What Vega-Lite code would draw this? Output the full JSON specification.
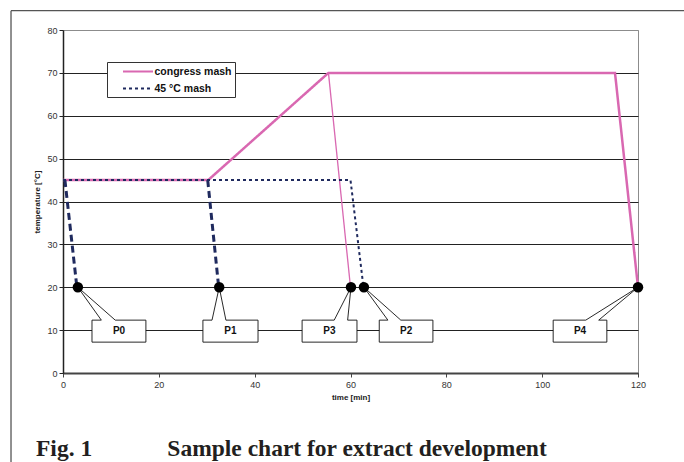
{
"$schema":"https://vega.github.io/schema/vega-lite/v6.json",
"width":575,"height":343,"autosize":"none",
"padding":{"left":63,"top":30,"right":46,"bottom":89},
"background":"white",
"config":{"view":{"stroke":"#8c8c8c","strokeWidth":1},"font":"Liberation Sans"},
"title":{"text":"Fig. 1\u00a0\u00a0\u00a0\u00a0\u00a0\u00a0\u00a0\u00a0\u00a0\u00a0\u00a0\u00a0\u2009Sample chart for extract development","orient":"bottom","anchor":"start","frame":"group","font":"Liberation Serif","fontSize":23.5,"fontWeight":"bold","color":"#231f20","dx":-27,"offset":-44},
"datasets":{
"frame":[{"x":-10.85,"x2":131,"y":84.5,"y2":84.5},{"x":-10.85,"x2":-10.85,"y":84.5,"y2":-25}],
"mash":[{"s":"congress mash","x":0,"y":45},{"s":"congress mash","x":30.3,"y":45},{"s":"congress mash","x":55.4,"y":70},{"s":"congress mash","x":115.2,"y":70},{"s":"congress mash","x":120,"y":20},{"s":"45 °C mash","x":0,"y":45},{"s":"45 °C mash","x":60,"y":45},{"s":"45 °C mash","x":62.6,"y":21}],
"branch":[{"x":55.4,"y":70},{"x":60,"y":20}],
"drops":[{"d":"P0","x":0.4,"y":45},{"d":"P0","x":2.8,"y":21},{"d":"P1","x":30.2,"y":45},{"d":"P1","x":32.4,"y":21}],
"callouts":[
{"c":"P0","o":0,"x":3.1,"y":20},{"c":"P0","o":1,"x":10.9,"y":12.33},{"c":"P0","o":2,"x":17.3,"y":12.33},{"c":"P0","o":3,"x":17.3,"y":7.2},{"c":"P0","o":4,"x":6.05,"y":7.2},{"c":"P0","o":5,"x":6.05,"y":12.33},{"c":"P0","o":6,"x":8.0,"y":12.33},{"c":"P0","o":7,"x":3.1,"y":20},
{"c":"P1","o":0,"x":32.6,"y":20},{"c":"P1","o":1,"x":34.0,"y":12.33},{"c":"P1","o":2,"x":40.7,"y":12.33},{"c":"P1","o":3,"x":40.7,"y":7.2},{"c":"P1","o":4,"x":29.2,"y":7.2},{"c":"P1","o":5,"x":29.2,"y":12.33},{"c":"P1","o":6,"x":31.1,"y":12.33},{"c":"P1","o":7,"x":32.6,"y":20},
{"c":"P3","o":0,"x":60.1,"y":20},{"c":"P3","o":1,"x":59.4,"y":12.33},{"c":"P3","o":2,"x":61.35,"y":12.33},{"c":"P3","o":3,"x":61.35,"y":7.2},{"c":"P3","o":4,"x":49.9,"y":7.2},{"c":"P3","o":5,"x":49.9,"y":12.33},{"c":"P3","o":6,"x":56.6,"y":12.33},{"c":"P3","o":7,"x":60.1,"y":20},
{"c":"P2","o":0,"x":62.8,"y":20},{"c":"P2","o":1,"x":70.5,"y":12.33},{"c":"P2","o":2,"x":77.2,"y":12.33},{"c":"P2","o":3,"x":77.2,"y":7.2},{"c":"P2","o":4,"x":66.0,"y":7.2},{"c":"P2","o":5,"x":66.0,"y":12.33},{"c":"P2","o":6,"x":67.8,"y":12.33},{"c":"P2","o":7,"x":62.8,"y":20},
{"c":"P4","o":0,"x":120,"y":20},{"c":"P4","o":1,"x":111.8,"y":12.33},{"c":"P4","o":2,"x":113.5,"y":12.33},{"c":"P4","o":3,"x":113.5,"y":7.2},{"c":"P4","o":4,"x":102.3,"y":7.2},{"c":"P4","o":5,"x":102.3,"y":12.33},{"c":"P4","o":6,"x":109.1,"y":12.33},{"c":"P4","o":7,"x":120,"y":20}],
"labels":[{"t":"P0","x":11.7,"y":9.7},{"t":"P1","x":34.95,"y":9.7},{"t":"P3","x":55.6,"y":9.7},{"t":"P2","x":71.6,"y":9.7},{"t":"P4","x":107.9,"y":9.7}],
"points":[{"x":3.1,"y":20},{"x":32.6,"y":20},{"x":60.1,"y":20},{"x":62.8,"y":20},{"x":120,"y":20}]
},
"encoding":{
"x":{"field":"x","type":"quantitative","scale":{"domain":[0,120],"nice":false,"zero":false},"axis":{"title":"time [min]","values":[0,20,40,60,80,100,120],"grid":false,"labelFlush":false,"domainColor":"#444","domainWidth":1.8,"tickColor":"#444","tickSize":4,"labelFontSize":9,"labelColor":"#333","labelPadding":3,"titleFontSize":8,"titleFontWeight":"bold","titleColor":"#222","titlePadding":4}},
"y":{"field":"y","type":"quantitative","scale":{"domain":[0,80],"nice":false},"axis":{"title":"temperature [°C]","values":[0,10,20,30,40,50,60,70,80],"grid":true,"gridColor":{"condition":{"test":"datum.value===80","value":"#8c8c8c"},"value":"#222"},"gridWidth":1,"domainColor":"#222","domainWidth":1.5,"tickColor":"#222","tickSize":4,"labelFontSize":9,"labelColor":"#333","labelPadding":2,"titleFontSize":8,"titleFontWeight":"bold","titleColor":"#222","titlePadding":5}}
},
"layer":[
{"data":{"name":"frame"},"mark":{"type":"rule","color":"#555","strokeWidth":1.3,"clip":false},"encoding":{"x2":{"field":"x2"},"y2":{"field":"y2"}}},
{"data":{"name":"callouts"},"mark":{"type":"line","stroke":"#111","strokeWidth":0.9,"fill":"white","strokeJoin":"miter"},"encoding":{"detail":{"field":"c"},"order":{"field":"o","type":"quantitative"}}},
{"data":{"name":"labels"},"mark":{"type":"text","font":"Liberation Sans","fontSize":10,"fontWeight":"bold","color":"#111","baseline":"middle"},"encoding":{"text":{"field":"t"}}},
{"data":{"name":"mash"},"transform":[{"filter":"datum.s==='congress mash'"}],"mark":{"type":"line","strokeWidth":2.5},"encoding":{
"color":{"field":"s","type":"nominal","scale":{"domain":["congress mash","45 °C mash"],"range":["#d968b1","#1f2a5e"]},"legend":{"title":null,"orient":"none","legendX":44,"legendY":32,"fillColor":"white","strokeColor":"#333","padding":3,"symbolType":"M-3,0H3","symbolSize":100,"symbolStrokeWidth":2.2,"symbolOffset":21.5,"labelOffset":10,"labelFont":"Liberation Sans","labelFontSize":10.5,"labelFontWeight":"bold","labelColor":"#111","rowPadding":5}},
"strokeDash":{"field":"s","type":"nominal","scale":{"domain":["congress mash","45 °C mash"],"range":[[1,0],[3,3]]},"legend":{"title":null,"orient":"none","legendX":44,"legendY":32}}}},
{"data":{"name":"branch"},"mark":{"type":"line","color":"#d968b1","strokeWidth":1.3},"encoding":{}},
{"data":{"name":"mash"},"transform":[{"filter":"datum.s==='45 °C mash'"}],"mark":{"type":"line","strokeWidth":2},"encoding":{
"color":{"field":"s","type":"nominal"},
"strokeDash":{"field":"s","type":"nominal"}}},
{"data":{"name":"drops"},"mark":{"type":"line","color":"#1f2a5e","strokeWidth":3,"strokeDash":[7,4]},"encoding":{"detail":{"field":"d"}}},
{"data":{"name":"points"},"mark":{"type":"point","filled":true,"color":"black","size":110,"opacity":1},"encoding":{}}
]
}
